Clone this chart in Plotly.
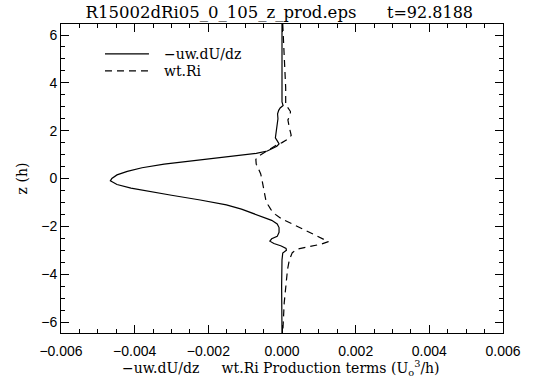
import plotly.graph_objects as go

# Vertical profiles of the two production terms (units U_o^3/h) versus height z (h)
z_shear = [6.46, 5.0, 4.0, 3.2, 3.05, 2.95, 2.85, 2.7, 2.5, 2.3, 2.1, 1.9, 1.7, 1.55,
           1.45, 1.35, 1.25, 1.15, 1.05, 0.95, 0.85, 0.75, 0.6, 0.45, 0.3, 0.15, 0.0,
           -0.1, -0.25, -0.4, -0.55, -0.7, -0.9, -1.1, -1.28, -1.45, -1.6, -1.75, -1.9,
           -2.05, -2.25, -2.42, -2.52, -2.62, -2.72, -2.82, -2.92, -3.0, -3.12, -3.4,
           -4.5, -6.46]
shear_prod = [0.0, 0.0, 0.0, 0.0, 0.00003, -0.00005, -0.00009, -0.00012, -0.00011,
              -0.00013, -0.00016, -0.00018, -0.00018, -0.00012, -0.00008, -0.00014,
              -0.00025, -0.00040, -0.00070, -0.00125, -0.0018, -0.0025, -0.0032,
              -0.0038, -0.0042, -0.00448, -0.00462, -0.00466, -0.00448, -0.0041,
              -0.0036, -0.0030, -0.00222, -0.00151, -0.0011, -0.00079, -0.00052,
              -0.00028, -0.00013, -0.00008, -0.00008, -0.00013, -0.00028, -0.00033,
              -0.00022, -0.00002, 0.00011, 0.00012, 0.00002, 0.0, -0.00001, 0.0]

z_buoy = [6.46, 5.5, 4.5, 3.8, 3.1, 2.95, 2.8, 2.65, 2.45, 2.2, 1.95, 1.8, 1.65, 1.5,
          1.4, 1.25, 1.1, 0.95, 0.8, 0.6, 0.4, 0.2, 0.0, -0.3, -0.6, -0.9, -1.1, -1.3,
          -1.5, -1.7, -1.9, -2.1, -2.3, -2.5, -2.64, -2.75, -2.85, -2.95, -3.1, -3.4,
          -3.8, -4.5, -5.2, -6.46]
buoy_prod = [0.00002, 0.00005, 0.00008, 0.0001, 0.0001, 0.00016, 0.00023, 0.00022,
             0.00016, 0.00019, 0.00024, 0.00025, 0.00016, 0.0, -0.00015, -0.0003,
             -0.00045, -0.00062, -0.00071, -0.0007, -0.00064, -0.00058, -0.00055,
             -0.00052, -0.00048, -0.00044, -0.00038, -0.0003, -0.00018, 0.0, 0.00028,
             0.00055, 0.00083, 0.00108, 0.00126, 0.00105, 0.00075, 0.00042, 0.00028,
             0.0002, 0.00015, 0.0001, 0.00006, 0.00002]

x_ticks = [-0.006, -0.004, -0.002, 0.0, 0.002, 0.004, 0.006]
y_ticks = [-6, -4, -2, 0, 2, 4, 6]

series_names = ["\u2212uw.dU/dz", "wt.Ri"]
title_file = "R15002dRi05_0_105_z_prod.eps"
title_time = "t=92.8188"
x_title = ("\u2212uw.dU/dz\u00a0\u00a0\u00a0\u00a0\u00a0wt.Ri Production terms "
           "(U<sub>o</sub><sup>3</sup>/h)")

SERIF = "DejaVu Serif"
SANS = "Liberation Sans, Arial, sans-serif"

fig = go.Figure()
fig.add_trace(go.Scatter(x=shear_prod, y=z_shear, mode="lines", name=series_names[0],
                         line=dict(color="black", width=1.2), showlegend=False))
fig.add_trace(go.Scatter(x=buoy_prod, y=z_buoy, mode="lines", name=series_names[1],
                         line=dict(color="black", width=1.2, dash="7px,5px"),
                         showlegend=False))

axis_common = dict(
    showline=True, linecolor="black", linewidth=1, mirror="ticks",
    ticks="inside", ticklen=8, tickwidth=1, tickcolor="black",
    showgrid=False, zeroline=False, automargin=False,
    tickfont=dict(family=SANS, size=14, color="black"),
)

fig.update_xaxes(range=[-0.006, 0.006], tickvals=x_ticks, tickformat=".3f",
                 ticklabelstandoff=5,
                 minor=dict(dtick=0.0005, ticks="inside", ticklen=4, tickcolor="black",
                            showgrid=False),
                 **axis_common)
fig.update_yaxes(range=[-6.46, 6.46], tickvals=y_ticks, tickformat="d",
                 minor=dict(dtick=0.5, ticks="inside", ticklen=4, tickcolor="black",
                            showgrid=False),
                 title=dict(text="z (h)", font=dict(family=SERIF, size=14, color="black"),
                            standoff=10),
                 **axis_common)

# x-axis caption placed below the tick labels
fig.add_annotation(xref="paper", yref="paper", x=(281 - 61) / 442, y=-(368 - 333) / 309,
                   text=x_title, showarrow=False, xanchor="center", yanchor="middle",
                   font=dict(family=SERIF, size=14, color="black"))

# Legend drawn inside the plot area, upper left
legend_rows = [(0.903, "solid"), (0.848, "7px,5px")]
for (ypos, dash), name in zip(legend_rows, series_names):
    fig.add_shape(type="line", xref="paper", yref="paper", x0=0.0995, x1=0.199,
                  y0=ypos, y1=ypos, line=dict(color="black", width=1.2, dash=dash))
    fig.add_annotation(xref="paper", yref="paper", x=0.2285, y=ypos, text=name,
                       showarrow=False, xanchor="left", yanchor="middle",
                       font=dict(family=SERIF, size=14, color="black"))

# Title: file name on the left, simulation time on the right
fig.update_layout(
    width=534, height=377,
    margin=dict(l=61, r=31, t=24, b=44),
    paper_bgcolor="white", plot_bgcolor="white",
    title=dict(text=title_file, font=dict(family=SERIF, size=16.5, color="black"),
               xref="container", x=221 / 534, xanchor="center",
               yref="container", y=1 - 12 / 377, yanchor="middle"),
)
fig.add_annotation(xref="paper", yref="paper", x=(430 - 61) / 442, y=1 + 12 / 309,
                   text=title_time, showarrow=False, xanchor="center", yanchor="middle",
                   font=dict(family=SERIF, size=16, color="black"))

fig.write_html("out.html")
